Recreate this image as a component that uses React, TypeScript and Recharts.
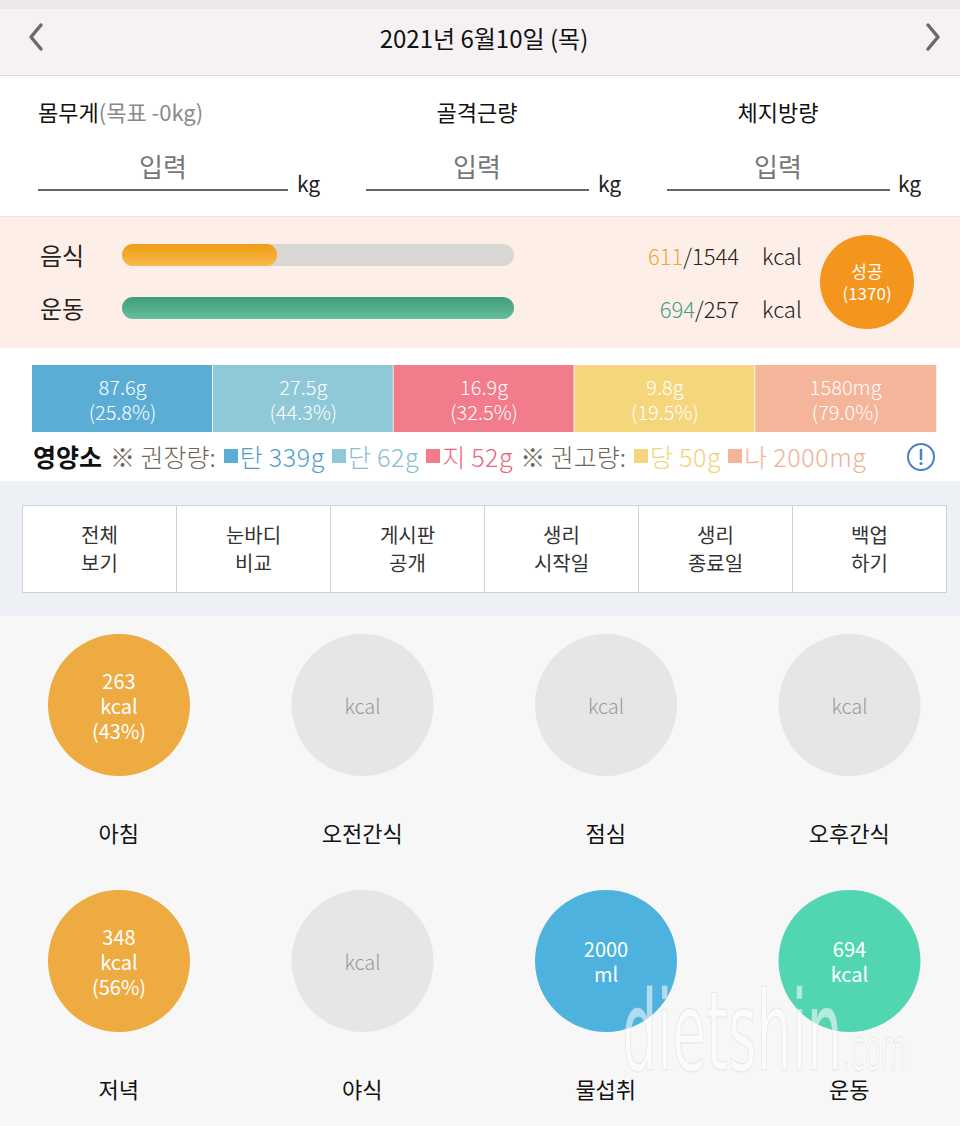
import React from 'react';
import { BarChart, Bar, XAxis, YAxis, Cell } from 'recharts';

const FONT = '"Noto Sans CJK KR", "Noto Sans", sans-serif';

// ---------- data ----------
const headerDate = '2021년 6월10일 (목)';
const bodyFields = ['몸무게', '골격근량', '체지방량'];
const weightGoalText = '(목표 -0kg)';
const inputPlaceholder = '입력';
const bodyUnit = 'kg';

const calorieNames = ['음식', '운동'];
const calorieValues = [611, 694];
const calorieGoals = [1544, 257];
const calorieValueColors = ['#e8a93a', '#3fa27f'];
const resultLabel = '성공';
const resultValue = 1370;

const nutrientNames = ['탄', '단', '지', '당', '나'];
const nutrientValues = [87.6, 27.5, 16.9, 9.8, 1580];
const nutrientUnits = ['g', 'g', 'g', 'g', 'mg'];
const nutrientPercents = ['25.8', '44.3', '32.5', '19.5', '79.0'];
const nutrientTargets = [339, 62, 52, 50, 2000];
const nutrientColors = ['#5badd5', '#8fc8d6', '#f27b8c', '#f6d67d', '#f4b59b'];
const nutrientTextColors = ['#4f9fcc', '#86c0cf', '#e9687e', '#f3d27a', '#f0b195'];

const menuLabels = [
  ['전체', '보기'],
  ['눈바디', '비교'],
  ['게시판', '공개'],
  ['생리', '시작일'],
  ['생리', '종료일'],
  ['백업', '하기'],
];

const mealRow1Names = ['아침', '오전간식', '점심', '오후간식'];
const mealRow1Values = [263, null, null, null];
const mealRow1Units = ['kcal', 'kcal', 'kcal', 'kcal'];
const mealRow1Percents = [43, null, null, null];
const mealRow1Colors = ['#eeab42', '#e6e6e6', '#e6e6e6', '#e6e6e6'];

const mealRow2Names = ['저녁', '야식', '물섭취', '운동'];
const mealRow2Values = [348, null, 2000, 694];
const mealRow2Units = ['kcal', 'kcal', 'ml', 'kcal'];
const mealRow2Percents = [56, null, null, null];
const mealRow2Colors = ['#eeab42', '#e6e6e6', '#4db2de', '#52d6b1'];

// ---------- derived tables ----------
const calorieData = calorieNames.map((name, i) => ({
  name,
  value: calorieValues[i],
  goal: calorieGoals[i],
  ratio: Math.min(calorieValues[i] / calorieGoals[i], 1),
}));

const nutrientData = nutrientNames.map((name, i) => ({
  name,
  value: nutrientValues[i],
  unit: nutrientUnits[i],
  pct: nutrientPercents[i],
}));

const buildMeals = (names: string[], values: (number | null)[], units: string[], pcts: (number | null)[], colors: string[]) =>
  names.map((name, i) => ({ name, value: values[i], unit: units[i], pct: pcts[i], color: colors[i] }));

const mealRow1 = buildMeals(mealRow1Names, mealRow1Values, mealRow1Units, mealRow1Percents, mealRow1Colors);
const mealRow2 = buildMeals(mealRow2Names, mealRow2Values, mealRow2Units, mealRow2Percents, mealRow2Colors);

const full = () => 1;

// ---------- components ----------
const CalorieLeftTick = (props: any) => {
  const { y, payload } = props;
  return (
    <text x={40} y={y} dominantBaseline="central" fontSize={24} fill="#222" fontFamily={FONT}>
      {payload.value}
    </text>
  );
};

const CalorieRightTick = (props: any) => {
  const { y, payload } = props;
  const i = calorieNames.indexOf(payload.value);
  return (
    <g fontFamily={FONT} fontSize={22} fontWeight={300}>
      <text x={739} y={y} textAnchor="end" dominantBaseline="central" fill="#222">
        <tspan fill={calorieValueColors[i]}>{calorieValues[i]}</tspan>
        <tspan>/{calorieGoals[i]}</tspan>
      </text>
      <text x={762} y={y} dominantBaseline="central" fill="#222">kcal</text>
    </g>
  );
};

const CalorieChart = () => (
  <BarChart width={830} height={106} data={calorieData} layout="vertical" margin={{ top: 0, right: 0, bottom: 0, left: 0 }}>
    <defs>
      <linearGradient id="gFood" x1="0" y1="0" x2="0" y2="1">
        <stop offset="0%" stopColor="#ef9d12" />
        <stop offset="100%" stopColor="#f7b94e" />
      </linearGradient>
      <linearGradient id="gEx" x1="0" y1="0" x2="0" y2="1">
        <stop offset="0%" stopColor="#3f9d7c" />
        <stop offset="100%" stopColor="#66bf9f" />
      </linearGradient>
    </defs>
    <XAxis type="number" domain={[0, 1]} hide />
    <YAxis type="category" dataKey="name" width={122} axisLine={false} tickLine={false} tick={<CalorieLeftTick />} />
    <YAxis yAxisId="r" orientation="right" type="category" dataKey="name" width={316} axisLine={false} tickLine={false} tick={<CalorieRightTick />} />
    <Bar dataKey="ratio" barSize={22} radius={11} isAnimationActive={false} background={{ fill: '#d9d7d3', radius: 11 } as any}>
      {calorieData.map((d, i) => (
        <Cell key={d.name} fill={i === 0 ? 'url(#gFood)' : 'url(#gEx)'} />
      ))}
    </Bar>
  </BarChart>
);

const NutrientShape = (props: any) => {
  const { x, y, width, height, index, payload } = props;
  const last = index === nutrientNames.length - 1;
  const cx = x + width / 2;
  return (
    <g>
      <rect x={x} y={y} width={last ? width : width - 1} height={height} fill={nutrientColors[index]} />
      <text x={cx} y={y + 21} textAnchor="middle" dominantBaseline="central" fill="#fff" fontSize={20} fontWeight={300} fontFamily={FONT}>
        {payload.value}{payload.unit}
      </text>
      <text x={cx} y={y + 46} textAnchor="middle" dominantBaseline="central" fill="#fff" fontSize={20} fontWeight={300} fontFamily={FONT}>
        ({payload.pct}%)
      </text>
    </g>
  );
};

const NutrientChart = () => (
  <BarChart width={960} height={67} data={nutrientData} barCategoryGap={0} margin={{ top: 0, right: 24, bottom: 0, left: 32 }}>
    <XAxis dataKey="name" type="category" hide />
    <YAxis type="number" domain={[0, 1]} hide />
    <Bar dataKey={full} isAnimationActive={false} shape={<NutrientShape />} />
  </BarChart>
);

const MealShape = (props: any) => {
  const { x, y, width, height, payload } = props;
  const cx = x + width / 2;
  const cy = y + height / 2;
  const filled = payload.value !== null && payload.value !== undefined;
  const lines: string[] = filled
    ? payload.pct !== null && payload.pct !== undefined
      ? [String(payload.value), payload.unit, `(${payload.pct}%)`]
      : [String(payload.value), payload.unit]
    : [payload.unit];
  const step = 25;
  const start = cy - ((lines.length - 1) * step) / 2;
  return (
    <g>
      <circle cx={cx} cy={cy} r={71} fill={payload.color} />
      {lines.map((t, i) => (
        <text key={i} x={cx} y={start + i * step} textAnchor="middle" dominantBaseline="central"
          fill={filled ? '#fff' : '#9a9a9a'} fontSize={20} fontWeight={filled ? 400 : 300} fontFamily={FONT}>
          {t}
        </text>
      ))}
    </g>
  );
};

const MealTick = (props: any) => {
  const { x, y, payload } = props;
  return (
    <text x={x} y={y + 48} textAnchor="middle" dominantBaseline="central" fontSize={22} fill="#111" fontFamily={FONT}>
      {payload.value}
    </text>
  );
};

const MealRow = ({ data }: { data: any[] }) => (
  <BarChart width={974} height={256} data={data} barCategoryGap={0} margin={{ top: 18, right: 0, bottom: 0, left: 0 }}>
    <XAxis dataKey="name" type="category" height={96} axisLine={false} tickLine={false} tick={<MealTick />} interval={0} />
    <YAxis type="number" domain={[0, 1]} hide />
    <Bar dataKey={full} isAnimationActive={false} shape={<MealShape />} />
  </BarChart>
);

const Chevron = ({ dir }: { dir: 'l' | 'r' }) => (
  <svg width={20} height={30} style={{ display: 'block' }}>
    <polyline
      points={dir === 'l' ? '15,3 5,15 15,27' : '5,3 15,15 5,27'}
      fill="none" stroke="#6a6a6a" strokeWidth={3.5} strokeLinecap="round" strokeLinejoin="round"
    />
  </svg>
);

const LegendItem = ({ i }: { i: number }) => (
  <span style={{ color: nutrientTextColors[i], marginRight: 7, display: 'inline-flex', alignItems: 'center' }}>
    <span style={{ display: 'inline-block', width: 14, height: 14, background: nutrientColors[i], marginRight: 2 }} />
    {nutrientNames[i]}
    <span style={{ marginLeft: 6, letterSpacing: 0.6 }}>{nutrientTargets[i]}{nutrientUnits[i]}</span>
  </span>
);

export default function App() {
  const inputCols = [
    { cx: 163, lineL: 38, lineR: 288, unitX: 297 },
    { cx: 477, lineL: 366, lineR: 589, unitX: 598 },
    { cx: 778, lineL: 667, lineR: 890, unitX: 898 },
  ];
  return (
    <div style={{ position: 'absolute', left: 0, top: 0, width: 960, height: 1126, overflow: 'hidden', background: '#f7f7f7', fontFamily: FONT }}>
      {/* header */}
      <div style={{ position: 'absolute', left: 0, top: 0, width: 960, height: 75, background: '#f6f2f4', borderBottom: '1px solid #dcdcdc' }}>
        <div style={{ position: 'absolute', left: 0, top: 0, width: 960, height: 9, background: '#ebe9eb' }} />
        <div style={{ position: 'absolute', left: 26, top: 22 }}><Chevron dir="l" /></div>
        <div style={{ position: 'absolute', left: 923, top: 22 }}><Chevron dir="r" /></div>
        <div style={{ position: 'absolute', left: 0, width: 968, top: 20, textAlign: 'center', fontSize: 24, lineHeight: '36px', color: '#111' }}>{headerDate}</div>
      </div>

      {/* body inputs */}
      <div style={{ position: 'absolute', left: 0, top: 76, width: 960, height: 140, background: '#fff' }}>
        <div style={{ position: 'absolute', left: 38, top: 19, fontSize: 22, lineHeight: '32px', color: '#111' }}>
          {bodyFields[0]}<span style={{ color: '#8a8a8a' }}>{weightGoalText}</span>
        </div>
        {bodyFields.slice(1).map((f, i) => (
          <div key={f} style={{ position: 'absolute', left: inputCols[i + 1].cx - 100, width: 200, top: 19, textAlign: 'center', fontSize: 22, lineHeight: '32px', color: '#111' }}>{f}</div>
        ))}
        {inputCols.map((c, i) => (
          <React.Fragment key={i}>
            <div style={{ position: 'absolute', left: c.cx - 100, width: 200, top: 72, textAlign: 'center', fontSize: 26, lineHeight: '36px', color: '#777' }}>{inputPlaceholder}</div>
            <div style={{ position: 'absolute', left: c.lineL, width: c.lineR - c.lineL, top: 113, height: 2, background: '#666' }} />
            <div style={{ position: 'absolute', left: c.unitX, top: 92, fontSize: 21, lineHeight: '30px', color: '#222' }}>{bodyUnit}</div>
          </React.Fragment>
        ))}
      </div>

      {/* calories */}
      <div style={{ position: 'absolute', left: 0, top: 216, width: 960, height: 131, background: '#fdefe8', borderTop: '1px solid #f3e2da', borderBottom: '1px solid #ececec' }}>
        <div style={{ position: 'absolute', left: 0, top: 11 }}><CalorieChart /></div>
        <div style={{ position: 'absolute', left: 820, top: 18, width: 94, height: 94, borderRadius: 47, background: '#f4961d', color: '#fff', textAlign: 'center', fontSize: 17, lineHeight: '22px', display: 'flex', flexDirection: 'column', justifyContent: 'center' }}>
          <div>{resultLabel}</div>
          <div>({resultValue})</div>
        </div>
      </div>

      {/* nutrients */}
      <div style={{ position: 'absolute', left: 0, top: 348, width: 960, height: 133, background: '#fff' }}>
        <div style={{ position: 'absolute', left: 0, top: 17 }}><NutrientChart /></div>
        <div style={{ position: 'absolute', left: 33, top: 91, height: 34, display: 'flex', alignItems: 'center', fontSize: 25, whiteSpace: 'nowrap', fontWeight: 300 }}>
          <span style={{ fontWeight: 700, color: '#111', marginRight: 8 }}>영양소</span>
          <span style={{ color: '#6f6658', marginRight: 8 }}>※ 권장량:</span>
          {[0, 1, 2].map((i) => <LegendItem key={i} i={i} />)}
          <span style={{ color: '#6f6658', marginRight: 8 }}>※ 권고량:</span>
          {[3, 4].map((i) => <LegendItem key={i} i={i} />)}
        </div>
        <svg style={{ position: 'absolute', left: 906, top: 95 }} width={30} height={30}>
          <circle cx={15} cy={14} r={13} fill="none" stroke="#4a7fcb" strokeWidth={2} />
          <line x1={15} y1={7} x2={15} y2={16} stroke="#4a7fcb" strokeWidth={2.5} strokeLinecap="round" />
          <circle cx={15} cy={20.5} r={1.6} fill="#4a7fcb" />
        </svg>
      </div>

      {/* menu */}
      <div style={{ position: 'absolute', left: 0, top: 481, width: 960, height: 135, background: '#edf1f5' }}>
        <div style={{ position: 'absolute', left: 22, top: 24, width: 925, height: 88, background: '#fff', border: '1px solid #cdd2d6', boxSizing: 'border-box', display: 'flex' }}>
          {menuLabels.map((m, i) => (
            <div key={i} style={{ flex: 1, borderLeft: i ? '1px solid #cdd2d6' : 'none', display: 'flex', flexDirection: 'column', justifyContent: 'center', alignItems: 'center', fontSize: 20, lineHeight: '28px', color: '#333' }}>
              <div>{m[0]}</div>
              <div>{m[1]}</div>
            </div>
          ))}
        </div>
      </div>

      {/* meals */}
      <div style={{ position: 'absolute', left: 0, top: 616, width: 960, height: 510, background: '#f7f7f7' }}>
        <div style={{ position: 'absolute', left: -3, top: 0 }}><MealRow data={mealRow1} /></div>
        <div style={{ position: 'absolute', left: -3, top: 256 }}><MealRow data={mealRow2} /></div>
        <svg style={{ position: 'absolute', left: 600, top: 340, pointerEvents: 'none' }} width={340} height={140}>
          <text x={22} y={114} fontSize={110} fontFamily='"DejaVu Sans Condensed", "Liberation Sans Narrow", sans-serif' textLength={220} lengthAdjust="spacingAndGlyphs"
            fill="#ffffff" fillOpacity={0.55} stroke="#d8d8d8" strokeOpacity={0.6} strokeWidth={1}>dietshin</text>
          <text x={242} y={114} fontSize={58} fontFamily='"DejaVu Sans Condensed", "Liberation Sans Narrow", sans-serif' textLength={64} lengthAdjust="spacingAndGlyphs"
            fill="#ffffff" fillOpacity={0.55} stroke="#d8d8d8" strokeOpacity={0.6} strokeWidth={1}>.com</text>
        </svg>
      </div>
    </div>
  );
}
